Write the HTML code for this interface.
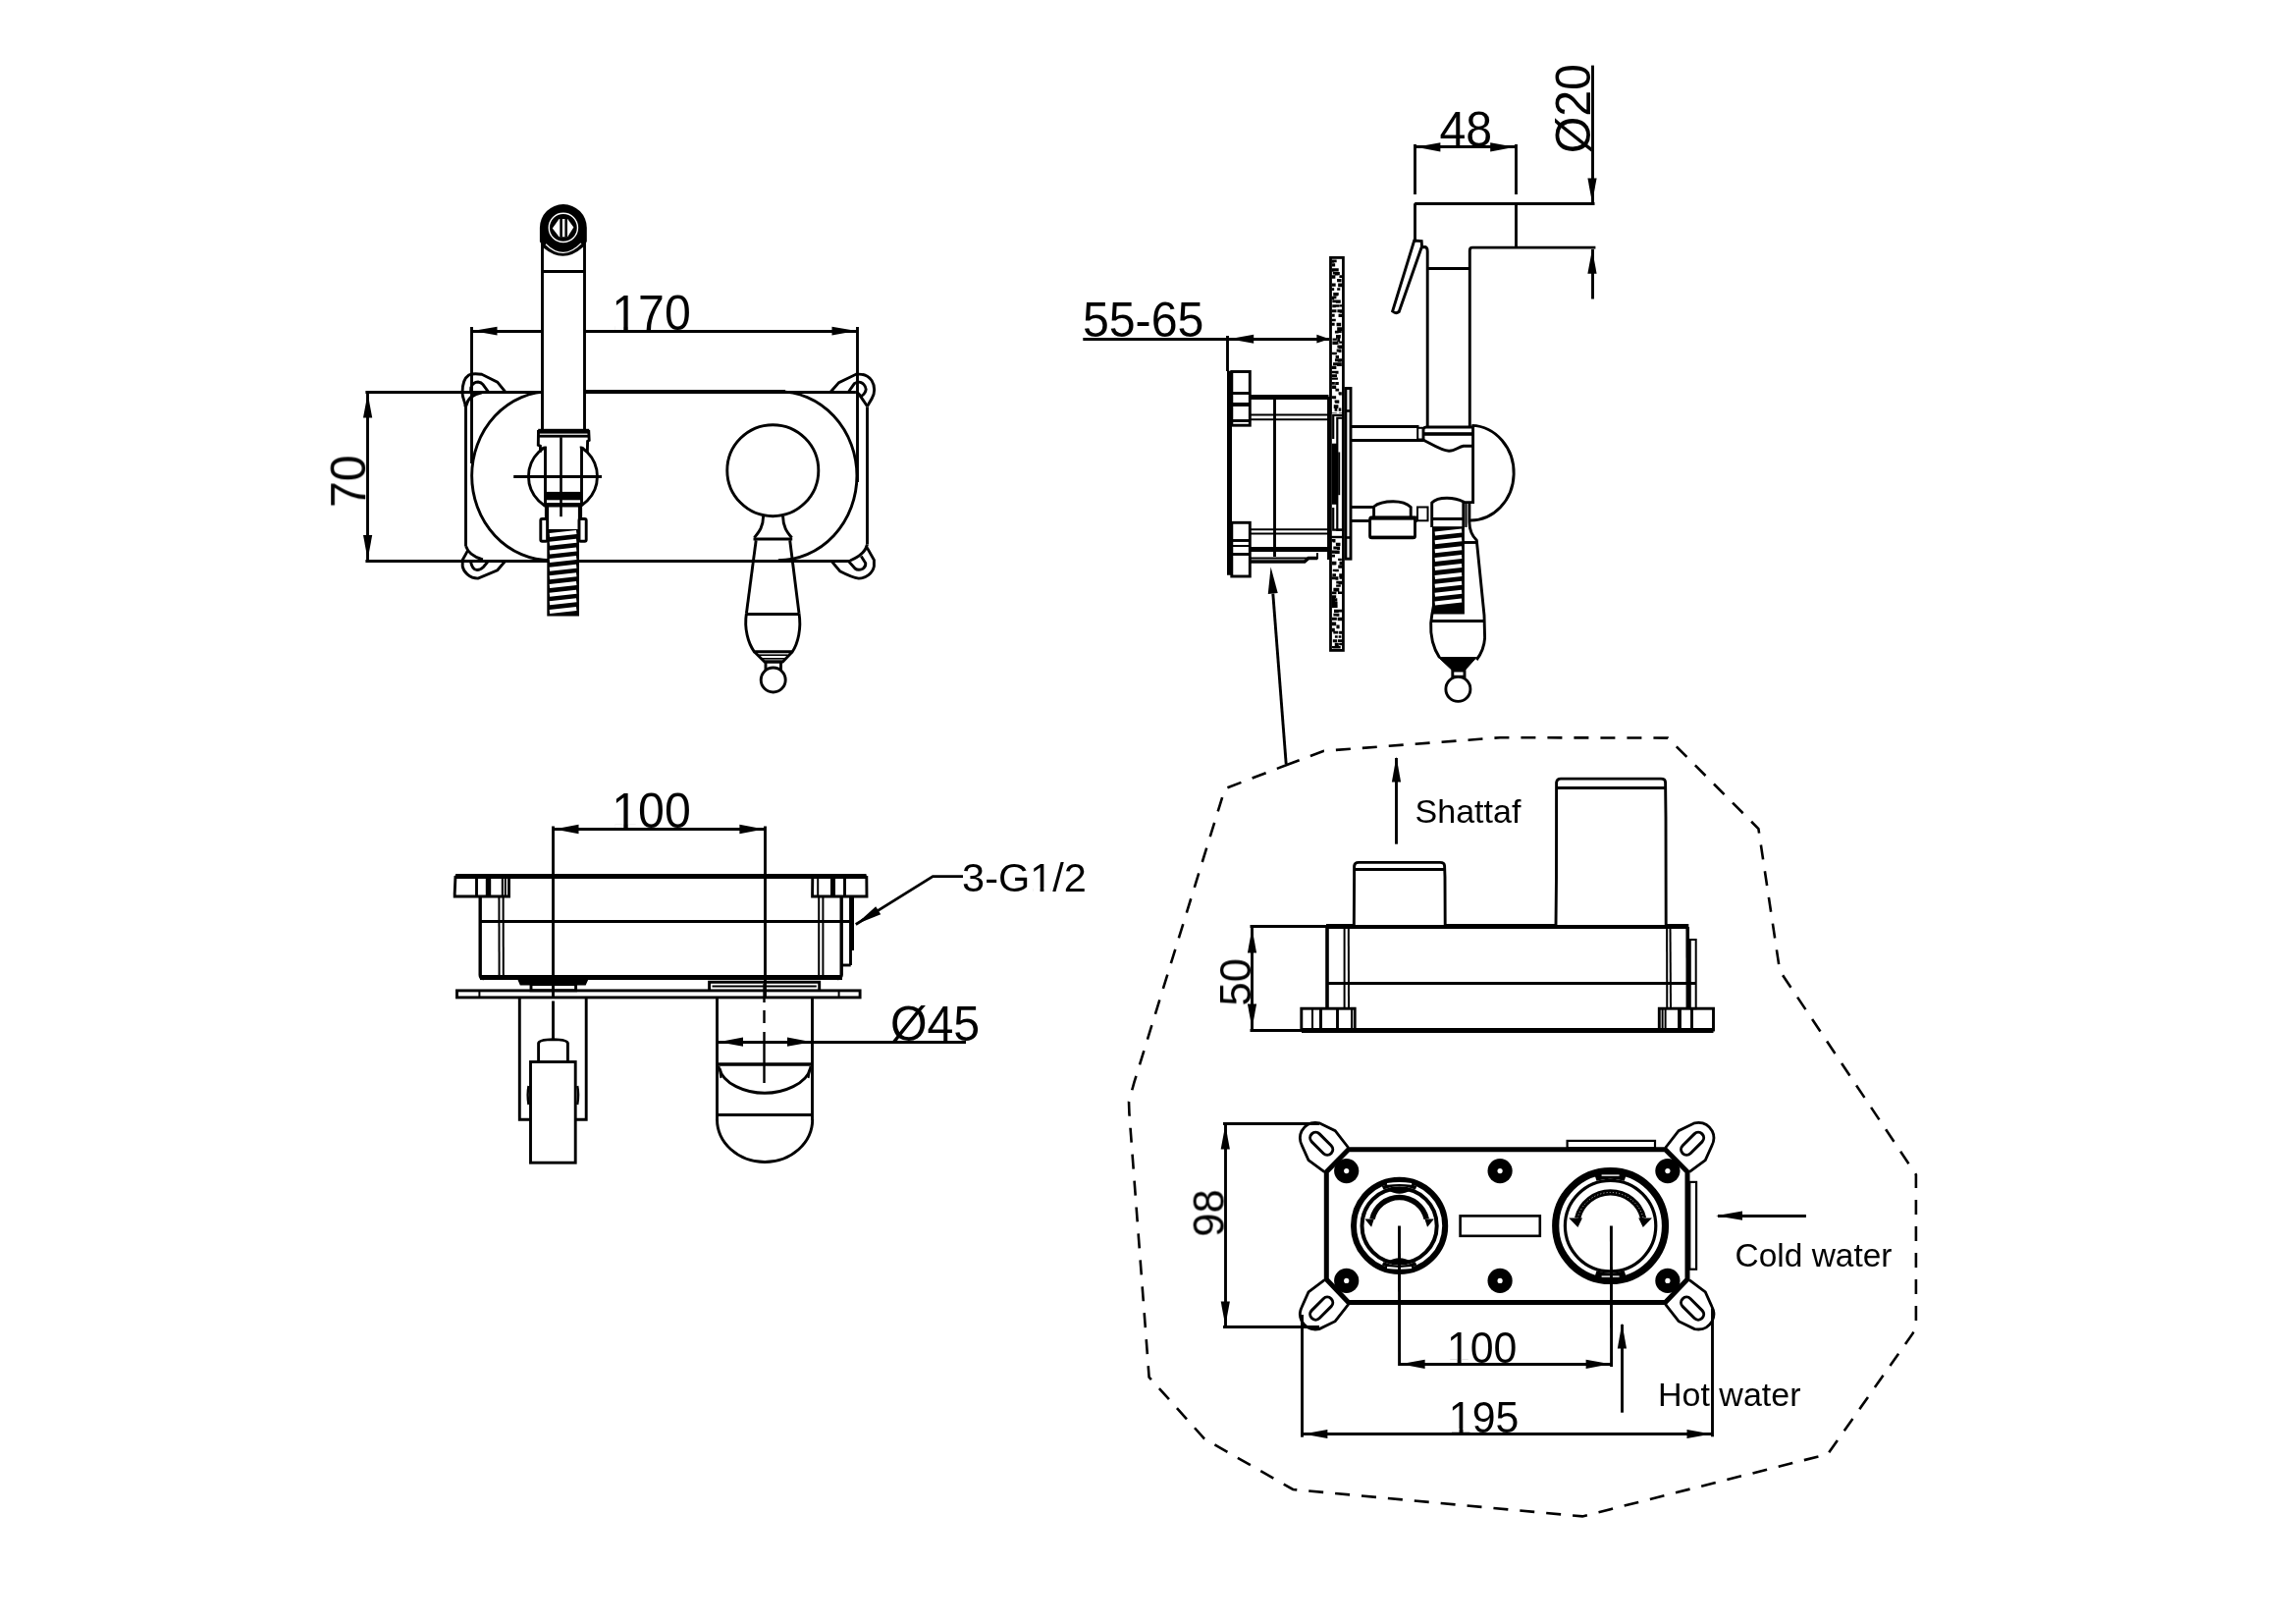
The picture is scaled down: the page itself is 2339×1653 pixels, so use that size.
<!DOCTYPE html><html><head><meta charset="utf-8"><style>html,body{margin:0;padding:0;background:#fff;overflow:hidden}svg{display:block}text{font-family:"Liberation Sans",sans-serif}</style></head><body>
<svg width="2339" height="1653" viewBox="0 0 2339 1653" stroke="#000" fill="none" stroke-linecap="butt" stroke-linejoin="miter">
<rect x="0" y="0" width="2339" height="1653" fill="#fff" stroke="none"/>
<g opacity="0.999">
<g transform="translate(663.5,336) scale(0.965,1)"><text x="-41.711" y="0" font-size="50" stroke="none" fill="#000">170</text><rect x="-38.293" y="-4.028" width="9.082" height="4.272" fill="#fff" stroke="none"/><rect x="-24.646" y="-4.028" width="8.813" height="4.272" fill="#fff" stroke="none"/></g>
<g transform="translate(372.2,490.3) rotate(-90) scale(0.965,1)"><text x="-27.808" y="0" font-size="50" stroke="none" fill="#000">70</text></g>
<g transform="translate(1493.3,149) scale(0.965,1)"><text x="-27.808" y="0" font-size="50" stroke="none" fill="#000">48</text></g>
<g transform="translate(1620,110.7) rotate(-90) scale(0.965,1)"><text x="-47.253" y="0" font-size="50" stroke="none" fill="#000">Ø20</text></g>
<g transform="translate(1164.6,343.2) scale(0.965,1)"><text x="-63.94" y="0" font-size="50" stroke="none" fill="#000">55-65</text></g>
<g transform="translate(663.5,843.1) scale(0.965,1)"><text x="-41.711" y="0" font-size="50" stroke="none" fill="#000">100</text><rect x="-38.293" y="-4.028" width="9.082" height="4.272" fill="#fff" stroke="none"/><rect x="-24.646" y="-4.028" width="8.813" height="4.272" fill="#fff" stroke="none"/></g>
<g transform="translate(952.5,1059.7) scale(0.965,1)"><text x="-47.253" y="0" font-size="50" stroke="none" fill="#000">Ø45</text></g>
<g transform="translate(1043.5,907.9)"><text x="-63.435" y="0" font-size="41.5" stroke="none" fill="#000">3-G1/2</text><rect x="8.582" y="-3.344" width="7.538" height="3.546" fill="#fff" stroke="none"/><rect x="19.909" y="-3.344" width="7.315" height="3.546" fill="#fff" stroke="none"/></g>
<g transform="translate(1274,1000.3) rotate(-90)"><text x="-24.193" y="0" font-size="43.5" stroke="none" fill="#000">50</text></g>
<g transform="translate(1441.6,837.9)"><text x="0" y="0" font-size="34" stroke="none" fill="#000">Shattaf</text></g>
<g transform="translate(1246.6,1235.5) rotate(-90)"><text x="-24.193" y="0" font-size="43.5" stroke="none" fill="#000">98</text></g>
<g transform="translate(1509.7,1388) scale(0.985,1)"><text x="-36.289" y="0" font-size="43.5" stroke="none" fill="#000">100</text><rect x="-33.315" y="-3.505" width="7.901" height="3.717" fill="#fff" stroke="none"/><rect x="-21.442" y="-3.505" width="7.668" height="3.717" fill="#fff" stroke="none"/></g>
<g transform="translate(1511.6,1458.5) scale(0.985,1)"><text x="-36.289" y="0" font-size="43.5" stroke="none" fill="#000">195</text><rect x="-33.315" y="-3.505" width="7.901" height="3.717" fill="#fff" stroke="none"/><rect x="-21.442" y="-3.505" width="7.668" height="3.717" fill="#fff" stroke="none"/></g>
<g transform="translate(1689,1431.7)"><text x="0" y="0" font-size="34" stroke="none" fill="#000">Hot water</text></g>
<g transform="translate(1767.5,1289.7) scale(0.985,1)"><text x="0" y="0" font-size="34" stroke="none" fill="#000">Cold water</text></g>
</g>
<line x1="480.4" y1="337.5" x2="873.6" y2="337.5" stroke-width="2.9"/>
<path d="M481.5,337.1 L506.5,332.7 L506.5,341.5 Z" stroke="none" fill="#000"/>
<path d="M872.5,337.1 L847.5,341.5 L847.5,332.7 Z" stroke="none" fill="#000"/>
<line x1="480.5" y1="333" x2="480.5" y2="472" stroke-width="2.9"/>
<line x1="873.5" y1="333" x2="873.5" y2="491" stroke-width="2.9"/>
<line x1="374.5" y1="399.4" x2="374.5" y2="571.3" stroke-width="2.9"/>
<path d="M374.6,400.6 L379.2,425.6 L370,425.6 Z" stroke="none" fill="#000"/>
<path d="M374.6,570.1 L370,545.1 L379.2,545.1 Z" stroke="none" fill="#000"/>
<line x1="372.4" y1="399.5" x2="871.9" y2="399.5" stroke-width="2.9"/>
<line x1="372.4" y1="571.5" x2="866" y2="571.5" stroke-width="2.9"/>
<line x1="595" y1="399" x2="800" y2="399" stroke-width="4.2"/>
<line x1="474.5" y1="414" x2="474.5" y2="556.3" stroke-width="2.9"/>
<line x1="883.5" y1="414.3" x2="883.5" y2="554.6" stroke-width="2.9"/>
<path d="M474,414.3 C474.5,410 471,406 471,400 C471,392 473,385 477.6,382 C480,380.8 486,380.5 490.9,381.3 L506.7,389.1 L514.6,398.8" stroke-width="2.9" fill="none"/>
<path d="M479.6,399.3 L479.8,394.6 C481,391 484,389 487,389 C489.5,389.3 491,390.3 492,391.6 L497.3,398.8" stroke-width="2.9" fill="none"/>
<path d="M474.6,414 C476,407 481,401.5 491,399.8" stroke-width="2.9" fill="none"/>
<path d="M846.3,399 L854.6,389.6 L871.9,381.3 C878,380.5 884,382 888,387.5 C891.5,393 891.5,401 888.2,405.9 L883.5,413.8" stroke-width="2.9" fill="none"/>
<path d="M864.5,399 L870.4,390.6 C872,389.5 874,389 875.3,389.1 C879,389.5 882,393 882.2,396.5 C882,399 880,402 876.8,403.9 L883.5,413.8" stroke-width="2.9" fill="none"/>
<path d="M871.9,399.4 C874,400 876,402 876.8,403.9" stroke-width="2.9" fill="none"/>
<path d="M476.6,560.6 L471.2,570.4 L471.2,576.8 C472,582 478,589 487,589.1 L506.7,580.8 L514.6,571.6" stroke-width="2.9" fill="none"/>
<path d="M479.6,571.3 C480,577 483,580.5 486,580.5 C489,580.5 491,579 492.5,577.5 L497.3,571.6" stroke-width="2.9" fill="none"/>
<path d="M474.6,556.1 C476,561 480,566.5 491.9,570" stroke-width="2.9" fill="none"/>
<path d="M883.2,557.6 L890.4,570.4 L890.4,576.8 C889,584 882,589 874.8,589.1 C870,588.5 862,585 855.6,581.7 L847.2,571.6" stroke-width="2.9" fill="none"/>
<path d="M864.5,571.6 L871,579 C873,580.5 876,580.5 878.5,579.5 C881,578 882,575.5 881.7,573.4 L877.3,566.5" stroke-width="2.9" fill="none"/>
<path d="M883.4,554.6 C882,561 877,566.5 866,571" stroke-width="2.9" fill="none"/>
<path d="M560.8,398.6 A80.2,86 0 0 0 560.8,570.6" stroke-width="2.9" fill="none"/>
<path d="M792.8,398.6 A80.2,86 0 0 1 792.8,570.6" stroke-width="2.9" fill="none"/>
<circle cx="787.3" cy="479.2" r="46.5" stroke-width="2.9" fill="#fff"/>
<path d="M777.6,525.8 C777.5,537 773,542 768.4,547.7" stroke-width="2.9" fill="none"/>
<path d="M797.6,525.8 C797.7,537 802,542 806.6,547.7" stroke-width="2.9" fill="none"/>
<rect x="767.5" y="547.5" width="39.7" height="3" stroke-width="0" fill="#000"/>
<line x1="770.2" y1="550.2" x2="760.4" y2="624.7" stroke-width="2.9"/>
<line x1="804.7" y1="550.2" x2="814" y2="624.7" stroke-width="2.9"/>
<line x1="760.5" y1="625.5" x2="814" y2="625.5" stroke-width="2.9"/>
<path d="M760.4,624.7 C758,640 762,655 768.4,663.8 L807.2,663.8 C813,655 816.5,640 814,624.7" stroke-width="2.9" fill="none"/>
<path d="M768.4,663.8 L778.9,674 L797.4,674 L807.2,663.8" stroke-width="2.9" fill="none"/>
<line x1="773" y1="667.2" x2="802.5" y2="667.2" stroke-width="1.6"/>
<line x1="776" y1="670.8" x2="799.5" y2="670.8" stroke-width="1.6"/>
<rect x="780" y="674" width="15.5" height="8.7" stroke-width="2.9" fill="none"/>
<circle cx="787.7" cy="692.5" r="12.5" stroke-width="2.9" fill="#fff"/>
<rect x="552.5" y="240" width="43" height="197" stroke="none" fill="#fff"/>
<line x1="552.5" y1="239" x2="552.5" y2="437" stroke-width="2.9"/>
<line x1="595.5" y1="239" x2="595.5" y2="437" stroke-width="2.9"/>
<line x1="553" y1="276.5" x2="595" y2="276.5" stroke-width="2.9"/>
<path d="M549.9,232 A23.95,23.95 0 0 1 597.8,232 L597.8,246 L593.9,251.7 Q573.85,269.4 553.8,252.6 L549.9,246 Z" stroke-width="0" fill="#000"/>
<path d="M556,248.7 Q573.85,266.5 592,247.9" stroke-width="1.3" fill="none" stroke="#fff"/>
<circle cx="573.85" cy="231.9" r="14.6" stroke-width="1.4" fill="none" stroke="#fff"/>
<path d="M562.8,232.6 L569.6,222.9 L578.2,222.9 L584.4,231.4 L578.2,241.2 L569.6,241.2 Z" stroke-width="0" fill="#fff"/>
<rect x="570.3" y="222.5" width="2.6" height="19.1" stroke="none" fill="#000"/>
<rect x="575.4" y="222.5" width="2.6" height="19.1" stroke="none" fill="#000"/>
<circle cx="573.45" cy="485.3" r="35" stroke-width="2.9" fill="none"/>
<rect x="556.8" y="440" width="33.9" height="100" stroke="none" fill="#fff"/>
<rect x="549.5" y="437" width="49.5" height="17.5" stroke="none" fill="#fff"/>
<path d="M548.5,438 L548.3,453.3 L550.4,454.3 L550.6,460.6" stroke-width="2.9" fill="none"/>
<path d="M599.7,438 L600.2,448.4 L598.6,449.3 L598.3,461" stroke-width="2.9" fill="none"/>
<rect x="548.2" y="436.8" width="52" height="4.8" stroke="none" fill="#000"/>
<rect x="548.5" y="442.8" width="51.5" height="2.8" stroke="none" fill="#000"/>
<line x1="555.5" y1="455" x2="555.5" y2="515" stroke-width="2.9"/>
<line x1="592.5" y1="455" x2="592.5" y2="515" stroke-width="2.9"/>
<line x1="523.2" y1="485.5" x2="613" y2="485.5" stroke-width="2.9"/>
<line x1="571.5" y1="445.2" x2="571.5" y2="526.2" stroke-width="2.6"/>
<rect x="556" y="500.9" width="36.5" height="8.4" stroke="none" fill="#000"/>
<rect x="555" y="512.1" width="38" height="4.4" stroke="none" fill="#000"/>
<line x1="557" y1="513" x2="557" y2="541" stroke-width="4.2"/>
<line x1="591" y1="513" x2="591" y2="541" stroke-width="4.2"/>
<rect x="550.8" y="528.5" width="6.8" height="22.7" stroke-width="2.9" fill="#fff" rx="1.5"/>
<rect x="590" y="528.5" width="7.2" height="22.7" stroke-width="2.9" fill="#fff" rx="1.5"/>
<line x1="557" y1="540.5" x2="590" y2="540.5" stroke-width="2.9"/>
<rect x="557.3" y="539.5" width="32.7" height="88" stroke="none" fill="#000"/>
<line x1="559.9" y1="545.1" x2="587.2" y2="542.1" stroke-width="4" stroke="#fff"/>
<line x1="559.9" y1="553.75" x2="587.2" y2="550.75" stroke-width="4" stroke="#fff"/>
<line x1="559.9" y1="562.4" x2="587.2" y2="559.4" stroke-width="4" stroke="#fff"/>
<line x1="559.9" y1="571.05" x2="587.2" y2="568.05" stroke-width="4" stroke="#fff"/>
<line x1="559.9" y1="579.7" x2="587.2" y2="576.7" stroke-width="4" stroke="#fff"/>
<line x1="559.9" y1="588.35" x2="587.2" y2="585.35" stroke-width="4" stroke="#fff"/>
<line x1="559.9" y1="597" x2="587.2" y2="594" stroke-width="4" stroke="#fff"/>
<line x1="559.9" y1="605.65" x2="587.2" y2="602.65" stroke-width="4" stroke="#fff"/>
<line x1="559.9" y1="614.3" x2="587.2" y2="611.3" stroke-width="4" stroke="#fff"/>
<line x1="559.9" y1="622.95" x2="587.2" y2="619.95" stroke-width="4" stroke="#fff"/>
<line x1="1441.2" y1="149.5" x2="1544.4" y2="149.5" stroke-width="2.9"/>
<path d="M1442.4,149.8 L1467.4,145.2 L1467.4,154.4 Z" stroke="none" fill="#000"/>
<path d="M1543.2,149.8 L1518.2,154.4 L1518.2,145.2 Z" stroke="none" fill="#000"/>
<line x1="1441.5" y1="147" x2="1441.5" y2="198" stroke-width="2.9"/>
<line x1="1544.5" y1="147" x2="1544.5" y2="198" stroke-width="2.9"/>
<line x1="1622.5" y1="66.6" x2="1622.5" y2="206.4" stroke-width="2.9"/>
<path d="M1622,206.4 L1617.4,181.4 L1626.6,181.4 Z" stroke="none" fill="#000"/>
<line x1="1622.5" y1="253.8" x2="1622.5" y2="304.5" stroke-width="2.9"/>
<path d="M1622,253.8 L1626.6,278.8 L1617.4,278.8 Z" stroke="none" fill="#000"/>
<line x1="1441.2" y1="207.5" x2="1624.5" y2="207.5" stroke-width="2.9"/>
<line x1="1441.5" y1="207.2" x2="1441.5" y2="246" stroke-width="2.9"/>
<line x1="1544.5" y1="207.2" x2="1544.5" y2="252.1" stroke-width="2.9"/>
<path d="M1625.4,252.1 L1500,252.1 Q1497.3,252.1 1497.3,255 L1497.3,434" stroke-width="2.9" fill="none"/>
<path d="M1454.2,434 L1454.2,256 Q1454.2,251.5 1451,251.5 L1449,252" stroke-width="2.9" fill="none"/>
<line x1="1454.9" y1="273.5" x2="1497.3" y2="273.5" stroke-width="2.9"/>
<path d="M1440.7,245 L1448.2,245.5 L1448.5,251 L1425.2,317.5 Q1422,320 1418.6,317 L1440.7,245 Z" stroke-width="2.9" fill="#fff"/>
<rect x="1355.5" y="262.4" width="12.9" height="400" stroke-width="2.8" fill="#fff"/>
<path d="M1356.786,264.5h4.875v2.832h-4.875z M1356.5,264.5h2.826v3.132h-2.826z M1356.951,268.367h3.178v3.082h-3.178z M1358.851,273.262h4.875v3.123h-4.875z M1356.5,273.262h2.712v3.574h-2.712z M1356.5,273.262h3.97v3.096h-3.97z M1360.518,277.007h4.309v3.103h-4.309z M1359.724,277.007h3.876v3.444h-3.876z M1357.818,277.007h3.468v2.597h-3.468z M1356.5,280.171h3.86v3.6h-3.86z M1364.417,280.171h2.883v2.869h-2.883z M1362.072,284.014h4.435v3.117h-4.435z M1363.508,288.405h3.792v3.475h-3.792z M1356.928,288.405h3.738v3.263h-3.738z M1363.147,288.405h4.153v3.789h-4.153z M1356.5,293.179h2.654v2.939h-2.654z M1362.168,293.179h3.124v2.66h-3.124z M1360.899,298.012h2.793v2.919h-2.793z M1358.236,298.012h4.566v3.582h-4.566z M1356.5,301.73h4.899v2.441h-4.899z M1356.5,301.73h2.629v3.53h-2.629z M1357.345,305.568h4.064v2.71h-4.064z M1360.879,305.568h4.881v3.248h-4.881z M1357.252,310.31h3.542v2.838h-3.542z M1364.551,310.31h2.749v2.308h-2.749z M1360.33,310.31h4.042v2.364h-4.042z M1364.639,315.208h2.661v3.599h-2.661z M1362.407,315.208h4.893v3.164h-4.893z M1356.5,315.208h4.983v2.946h-4.983z M1363.551,319.707h3.749v3.307h-3.749z M1356.712,319.707h2.952v3.069h-2.952z M1356.5,324.664h4.271v2.618h-4.271z M1362.512,328.729h3.391v2.557h-3.391z M1361.536,328.729h4.646v3.49h-4.646z M1356.5,328.729h3.144v3.028h-3.144z M1363.748,333.309h3.222v3.308h-3.222z M1362.183,333.309h4.849v3.781h-4.849z M1359.913,336.75h3.728v2.74h-3.728z M1362.624,336.75h4.065v2.203h-4.065z M1361.013,341.037h4.783v3.452h-4.783z M1362.269,344.394h2.808v3.714h-2.808z M1357.519,344.394h4.384v2.336h-4.384z M1357.381,347.449h4.772v3.49h-4.772z M1358.549,347.449h4.953v3.252h-4.953z M1364.156,347.449h2.914v2.223h-2.914z M1363.659,351.502h3.641v3.595h-3.641z M1362.372,351.502h3.111v3.002h-3.111z M1363.73,355.591h2.746v3.384h-2.746z M1361.665,355.591h4.556v3.027h-4.556z M1356.5,358.852h3.856v2.23h-3.856z M1357.397,358.852h4.462v2.44h-4.462z M1360.62,362.093h3.382v3.029h-3.382z M1364.564,365.305h2.736v2.506h-2.736z M1362.752,365.305h3.948v3.416h-3.948z M1359.947,365.305h4.07v3.009h-4.07z M1358.051,369.21h4.538v3.012h-4.538z M1362.127,369.21h4.702v3.684h-4.702z M1359.714,369.21h3.086v2.916h-3.086z M1356.5,372.842h3.628v2.54h-3.628z M1356.5,372.842h4.855v3.23h-4.855z M1356.5,377.777h4.392v2.351h-4.392z M1360.528,377.777h2.988v2.89h-2.988z M1359.197,381.168h2.821v2.786h-2.821z M1356.5,381.168h4.288v2.815h-4.288z M1356.5,384.394h4.932v2.368h-4.932z M1359.688,384.394h3.249v2.407h-3.249z M1360.22,389.032h3.574v3.059h-3.574z M1356.5,389.032h3.385v2.646h-3.385z M1357.059,392.57h4.123v3.483h-4.123z M1360.433,395.703h3.689v2.743h-3.689z M1364.095,399.239h2.704v3.335h-2.704z M1363.558,399.239h3.229v2.49h-3.229z M1357.835,403.301h3.296v3h-3.296z M1356.625,403.301h2.644v2.601h-2.644z M1359.614,407.403h3.834v2.593h-3.834z M1360.125,407.403h4.16v3.25h-4.16z M1358.745,412.344h4.251v3.772h-4.251z M1359.132,412.344h4.296v3.218h-4.296z M1363.685,415.452h2.634v3.201h-2.634z M1359.573,415.452h2.733v3.264h-2.733z M1364.119,420.394h3.181v0.606h-3.181z M1359.194,420.394h2.609v0.606h-2.609z M1356.5,420.394h3.376v0.606h-3.376z M1356.5,549h2.801v2.646h-2.801z M1357.648,549h2.818v3.507h-2.818z M1360.874,552.788h3.33v2.572h-3.33z M1361.081,552.788h4.401v3.252h-4.401z M1358.339,556.567h4.33v2.991h-4.33z M1362.115,556.567h2.947v3.52h-2.947z M1360.467,560.425h2.934v3.038h-2.934z M1360.161,560.425h4.531v3.522h-4.531z M1356.5,560.425h4.239v3.309h-4.239z M1356.5,564.7h3.504v2.922h-3.504z M1363.124,568.678h3.697v2.312h-3.697z M1364.541,571.862h2.759v3.379h-2.759z M1358.262,571.862h3.163v3.41h-3.163z M1357.044,571.862h3.705v3.553h-3.705z M1363.219,575.437h4.081v3.228h-4.081z M1359.737,579.74h4.091v2.414h-4.091z M1357.777,579.74h4.934v2.359h-4.934z M1357.34,584.158h3.715v2.946h-3.715z M1364.222,584.158h3.078v3.765h-3.078z M1356.5,587.311h4.923v2.919h-4.923z M1364.521,587.311h2.779v2.344h-2.779z M1360.51,587.311h2.918v3.512h-2.918z M1363.505,591.717h3.795v3.602h-3.795z M1361.273,591.717h4.236v2.849h-4.236z M1361.142,595.469h4.617v2.203h-4.617z M1358.381,598.71h4.311v3.643h-4.311z M1360.776,598.71h3.543v3.798h-3.543z M1356.817,602.566h4.65v2.649h-4.65z M1362.983,602.566h4.124v2.438h-4.124z M1356.683,606.197h4.484v2.884h-4.484z M1356.5,606.197h3.56v3.601h-3.56z M1356.5,609.296h3.682v3.404h-3.682z M1357.527,609.296h4.789v3.08h-4.789z M1358.172,612.859h4.374v3.762h-4.374z M1356.5,612.859h3.322v3.092h-3.322z M1357.826,616.01h4.774v2.995h-4.774z M1356.5,616.01h4.992v2.92h-4.992z M1358.984,616.01h3.019v3.089h-3.019z M1359.006,620.628h4.729v3.399h-4.729z M1363.442,620.628h3.858v2.803h-3.858z M1361.473,624.777h2.902v3.005h-2.902z M1358.409,624.777h3.118v2.634h-3.118z M1362.663,628.669h4.637v3.597h-4.637z M1356.93,628.669h4.924v2.984h-4.924z M1356.5,633.525h4.653v3.756h-4.653z M1357.353,633.525h2.965v3.755h-2.965z M1356.5,633.525h4.282v3.554h-4.282z M1361.433,636.528h3.158v3.672h-3.158z M1361.522,636.528h2.907v2.603h-2.907z M1356.5,639.752h3.321v3.71h-3.321z M1358.338,642.773h4.991v2.646h-4.991z M1364.118,642.773h3.182v3.042h-3.182z M1363.638,647.182h2.733v2.511h-2.733z M1359.897,647.182h2.795v2.565h-2.795z M1362.976,651.168h4.324v2.78h-4.324z M1357.819,651.168h4.374v3.008h-4.374z M1364.146,654.791h3.154v2.554h-3.154z M1359.767,654.791h4.064v3.634h-4.064z M1358.171,657.904h2.951v2.596h-2.951z M1356.973,657.904h2.941v2.283h-2.941z M1360.929,657.904h4.756v2.596h-4.756z" fill="#000" stroke="none"/>
<line x1="1103.3" y1="345.5" x2="1354.2" y2="345.5" stroke-width="2.9"/>
<path d="M1252.2,345.2 L1277.2,340.7 L1277.2,349.7 Z" stroke="none" fill="#000"/>
<path d="M1354.4,345.2 L1341.4,349.6 L1341.4,340.8 Z" stroke="none" fill="#000"/>
<line x1="1250.5" y1="342" x2="1250.5" y2="378" stroke-width="2.9"/>
<line x1="1252.5" y1="377.7" x2="1252.5" y2="585.8" stroke-width="5"/>
<rect x="1254.8" y="378.5" width="18.5" height="54.7" stroke-width="2.9" fill="none"/>
<line x1="1254.8" y1="400.5" x2="1273.3" y2="400.5" stroke-width="2.9"/>
<line x1="1254.8" y1="412" x2="1273.3" y2="412" stroke-width="4"/>
<line x1="1254.8" y1="428.5" x2="1273.3" y2="428.5" stroke-width="2.9"/>
<rect x="1254.8" y="532.3" width="18.5" height="54.7" stroke-width="2.9" fill="none"/>
<line x1="1254.8" y1="550.5" x2="1273.3" y2="550.5" stroke-width="2.9"/>
<line x1="1254.8" y1="556" x2="1273.3" y2="556" stroke-width="2"/>
<line x1="1254.8" y1="564.5" x2="1273.3" y2="564.5" stroke-width="2.9"/>
<line x1="1273.3" y1="404.5" x2="1353.5" y2="404.5" stroke-width="5"/>
<line x1="1273.3" y1="422.6" x2="1353.5" y2="422.6" stroke-width="2"/>
<line x1="1273.3" y1="427.3" x2="1353.5" y2="427.3" stroke-width="2"/>
<line x1="1298.5" y1="405.8" x2="1298.5" y2="567" stroke-width="2.9"/>
<line x1="1273.3" y1="539.2" x2="1353.5" y2="539.2" stroke-width="2"/>
<line x1="1273.3" y1="543.6" x2="1353.5" y2="543.6" stroke-width="2"/>
<line x1="1273.3" y1="559.5" x2="1353.5" y2="559.5" stroke-width="5"/>
<path d="M1273.3,568.6 L1342,568.6 L1342,563 " stroke-width="2" fill="none"/>
<path d="M1273.3,572 L1329,572 L1333,568.5 L1342,568.5" stroke-width="3.5" fill="none"/>
<line x1="1353.5" y1="404" x2="1353.5" y2="570" stroke-width="2.9"/>
<rect x="1356.9" y="421.5" width="10.1" height="127.5" stroke="none" fill="#fff"/>
<path d="M1358.2,447 L1358.2,422.8 L1368,422.8" stroke-width="2.2" fill="none"/>
<path d="M1358.2,517 L1358.2,539.7 L1368,539.7" stroke-width="2.2" fill="none"/>
<rect x="1362.3" y="425.7" width="5.7" height="114" stroke-width="2.2" fill="none"/>
<rect x="1356.8" y="451.7" width="5.9" height="62.1" stroke="none" fill="#000"/>
<line x1="1364.2" y1="460.5" x2="1364.2" y2="504.2" stroke-width="2"/>
<line x1="1355" y1="547" x2="1368" y2="547" stroke-width="2.4"/>
<rect x="1370.9" y="395.5" width="5.1" height="173.7" stroke-width="2.9" fill="#fff"/>
<line x1="1370" y1="418.5" x2="1377" y2="418.5" stroke-width="2.6"/>
<line x1="1370" y1="547.5" x2="1377" y2="547.5" stroke-width="2.6"/>
<line x1="1376" y1="434.5" x2="1445.5" y2="434.5" stroke-width="2.9"/>
<line x1="1376" y1="448.5" x2="1450" y2="448.5" stroke-width="2.9"/>
<rect x="1444.2" y="435.8" width="5.8" height="11.7" stroke-width="2" fill="none"/>
<path d="M1450,447.5 L1450,437 Q1451,435 1453,435 L1500.6,435 L1500.6,511.6 L1490.5,511.6" stroke-width="2.9" fill="none"/>
<rect x="1450" y="440.2" width="50.6" height="3.6" stroke="none" fill="#000"/>
<path d="M1450,448.1 C1458,452 1468,459 1476,459.2 C1482,459.4 1486,455 1490.8,454.2 L1500.6,454.2" stroke-width="2.9" fill="none"/>
<path d="M1499.4,433.4 A44,48.3 0 0 1 1496.9,530" stroke-width="2.9" fill="none"/>
<line x1="1376" y1="516.5" x2="1399.6" y2="516.5" stroke-width="2.9"/>
<line x1="1376" y1="530.5" x2="1396" y2="530.5" stroke-width="2.9"/>
<path d="M1399.6,526 L1399.6,516 C1405,511.5 1412,510.8 1419.3,510.8 C1426,510.8 1432,511.5 1437.2,516.5 L1437.2,526" stroke-width="2.9" fill="none"/>
<path d="M1441.5,527 L1441.5,546 Q1441.5,547.8 1439.5,547.8 L1397.5,547.8 Q1395.6,547.8 1395.6,546 L1395.6,529 Q1395.6,527 1397.5,527 Z" stroke-width="2.9" fill="#fff"/>
<rect x="1395.6" y="525.8" width="45.9" height="3.8" stroke="none" fill="#000"/>
<rect x="1395.6" y="545.6" width="45.9" height="3" stroke="none" fill="#000"/>
<rect x="1444" y="516.5" width="10.5" height="13.8" stroke-width="2" fill="none"/>
<path d="M1441.5,532 L1444,530" stroke-width="2" fill="none"/>
<path d="M1458.7,537 L1458.7,512 C1462,508.5 1468,507.2 1474,507.2 C1481,507.2 1486,508.5 1490.8,511 L1490.8,537" stroke-width="2.9" fill="#fff"/>
<line x1="1458.7" y1="528.5" x2="1490.8" y2="528.5" stroke-width="2.9"/>
<line x1="1493.5" y1="511.6" x2="1493.5" y2="537" stroke-width="2"/>
<rect x="1459" y="536.2" width="32.9" height="89.3" stroke="none" fill="#000"/>
<line x1="1461.8" y1="543.4" x2="1489.1" y2="540.4" stroke-width="4" stroke="#fff"/>
<line x1="1461.8" y1="552.3" x2="1489.1" y2="549.3" stroke-width="4" stroke="#fff"/>
<line x1="1461.8" y1="561.2" x2="1489.1" y2="558.2" stroke-width="4" stroke="#fff"/>
<line x1="1461.8" y1="570.1" x2="1489.1" y2="567.1" stroke-width="4" stroke="#fff"/>
<line x1="1461.8" y1="579" x2="1489.1" y2="576" stroke-width="4" stroke="#fff"/>
<line x1="1461.8" y1="587.9" x2="1489.1" y2="584.9" stroke-width="4" stroke="#fff"/>
<line x1="1461.8" y1="596.8" x2="1489.1" y2="593.8" stroke-width="4" stroke="#fff"/>
<line x1="1461.8" y1="605.7" x2="1489.1" y2="602.7" stroke-width="4" stroke="#fff"/>
<line x1="1461.8" y1="614.6" x2="1489.1" y2="611.6" stroke-width="4" stroke="#fff"/>
<path d="M1496.9,511.6 L1496.9,532 C1497,540 1500,546 1504.3,550.3 L1512,626.5 L1512.6,649.8 C1512,660 1508,667 1504.2,672" stroke-width="2.9" fill="none"/>
<line x1="1491" y1="552.5" x2="1505.3" y2="552.5" stroke-width="2.9"/>
<path d="M1460.4,617 L1458.8,626 L1457.7,634.3 C1457,648 1460,660 1466.5,669.8" stroke-width="2.9" fill="none"/>
<line x1="1458.8" y1="632.5" x2="1512" y2="632.5" stroke-width="2.9"/>
<path d="M1465.4,669.5 L1504.2,669.5 L1492,683 L1479.8,683 Z" stroke-width="1" fill="#000"/>
<rect x="1479.8" y="683" width="12.2" height="6.2" stroke-width="2.9" fill="none"/>
<circle cx="1485.4" cy="701.9" r="12.5" stroke-width="2.9" fill="#fff"/>
<line x1="1310.2" y1="778" x2="1296.8" y2="604.7" stroke-width="2.9"/>
<path d="M1294.6,577.6 L1301.737,604.115 L1291.769,604.913 Z" stroke="none" fill="#000"/>
<line x1="563.4" y1="844.5" x2="779.5" y2="844.5" stroke-width="2.9"/>
<path d="M564.5,844.5 L589.5,839.8 L589.5,849.2 Z" stroke="none" fill="#000"/>
<path d="M778.4,844.5 L753.4,849.2 L753.4,839.8 Z" stroke="none" fill="#000"/>
<line x1="563.5" y1="841.5" x2="563.5" y2="1016" stroke-width="2.9"/>
<line x1="779.5" y1="841.5" x2="779.5" y2="1016" stroke-width="2.9"/>
<path d="M464.2,893.5 L464.2,891.2 L882,891.2 L883,893.5" stroke-width="1" fill="none"/>
<line x1="464.2" y1="892.5" x2="882.5" y2="892.5" stroke-width="5"/>
<path d="M464,892 L463.2,910 L463.2,913 L518.5,913 L518.5,892" stroke-width="2.9" fill="none"/>
<line x1="485.5" y1="893" x2="485.5" y2="912" stroke-width="2.9"/>
<line x1="497.5" y1="893" x2="497.5" y2="912" stroke-width="5.4"/>
<line x1="511.8" y1="893" x2="511.8" y2="912" stroke-width="2"/>
<line x1="514.8" y1="893" x2="514.8" y2="912" stroke-width="2"/>
<path d="M827.8,892 L827.6,910 L827.6,913 L883,913 L882.8,892" stroke-width="2.9" fill="none"/>
<line x1="833.2" y1="893" x2="833.2" y2="912" stroke-width="2"/>
<line x1="848.5" y1="893" x2="848.5" y2="912" stroke-width="5"/>
<line x1="860.5" y1="893" x2="860.5" y2="912" stroke-width="2.9"/>
<path d="M489.2,913 L489.2,993 Q489.2,996.6 493,996.6" stroke-width="3.4" fill="none"/>
<line x1="508.4" y1="913" x2="508.6" y2="993" stroke-width="2"/>
<line x1="512.6" y1="913" x2="512.8" y2="993" stroke-width="2"/>
<line x1="834.2" y1="913" x2="834.2" y2="994" stroke-width="2"/>
<line x1="838.4" y1="913" x2="838.4" y2="994" stroke-width="2"/>
<path d="M857.2,913 L857.2,993 Q857,996.6 853,996.6" stroke-width="3.4" fill="none"/>
<line x1="866.5" y1="913" x2="866.5" y2="983" stroke-width="2.9"/>
<line x1="868.5" y1="913" x2="868.5" y2="968" stroke-width="3"/>
<path d="M857.2,983 L866.7,983" stroke-width="2.9" fill="none"/>
<line x1="490" y1="938.5" x2="867" y2="938.5" stroke-width="2.9"/>
<line x1="489" y1="995.5" x2="858" y2="995.5" stroke-width="5"/>
<path d="M528,996.5 L530.5,1002.6 L596,1002.6 L598.7,996.5 Z" stroke-width="2" fill="#000"/>
<rect x="541" y="1002.6" width="45.6" height="6.2" stroke-width="2.9" fill="none"/>
<path d="M722.6,1008.8 L722.6,1000.2 L834.7,1000.2 L834.7,1008.8" stroke-width="2.9" fill="none"/>
<line x1="725.5" y1="1004.5" x2="831.8" y2="1004.5" stroke-width="2"/>
<rect x="465.5" y="1008.9" width="410.6" height="7" stroke-width="2.9" fill="none"/>
<line x1="488.4" y1="1009" x2="488.4" y2="1016" stroke-width="2"/>
<line x1="854.6" y1="1009" x2="854.6" y2="1016" stroke-width="2"/>
<path d="M529.3,1016 L529.3,1140.3 L540,1140.3" stroke-width="2.9" fill="none"/>
<path d="M597.2,1016 L597.2,1140.3 L586.5,1140.3" stroke-width="2.9" fill="none"/>
<rect x="540.5" y="1081.5" width="45.7" height="102.7" stroke-width="2.9" fill="#fff"/>
<path d="M548.6,1081.5 L548.6,1062.5 Q549,1058.8 563.5,1058.6 Q578,1058.8 578.4,1062.5 L578.4,1081.5" stroke-width="2.9" fill="none"/>
<line x1="563.5" y1="1019.5" x2="563.5" y2="1058.8" stroke-width="2.9"/>
<path d="M538.5,1106 Q536.8,1115 538.5,1125" stroke-width="2.4" fill="none"/>
<path d="M588.2,1106 Q590,1115 588.2,1125" stroke-width="2.4" fill="none"/>
<line x1="730.5" y1="1016" x2="730.5" y2="1141" stroke-width="2.9"/>
<line x1="827.5" y1="1016" x2="827.5" y2="1141" stroke-width="2.9"/>
<line x1="730.5" y1="1084" x2="827.7" y2="1084" stroke-width="3.6"/>
<path d="M733,1088 C736,1104 760,1113.3 779,1113.3 C798,1113.3 822,1104 825.5,1088" stroke-width="2.9" fill="none"/>
<path d="M732.5,1086 L734.5,1098" stroke-width="2" fill="none"/>
<path d="M825.5,1086 L823.5,1098" stroke-width="2" fill="none"/>
<line x1="730.5" y1="1135.5" x2="827.7" y2="1135.5" stroke-width="2.9"/>
<path d="M730.5,1140 A48.6,43.5 0 0 0 827.7,1140" stroke-width="2.9" fill="none"/>
<path d="M778.5,1002 L778.5,1103" stroke-width="2.4" stroke-dasharray="19,8,13,9,60"/>
<line x1="731.2" y1="1061.5" x2="984" y2="1061.5" stroke-width="2.9"/>
<path d="M732,1061.2 L757,1056.6 L757,1065.8 Z" stroke="none" fill="#000"/>
<path d="M827,1061.2 L802,1065.8 L802,1056.6 Z" stroke="none" fill="#000"/>
<path d="M871.8,941.5 L950.3,892.6 L981,892.6" stroke-width="2.9" fill="none"/>
<path d="M871.8,941.5 L892.177,923.148 L897.254,931.295 Z" stroke="none" fill="#000"/>
<path d="M1309.6,779.5 L1348.7,764.8 L1528.3,751.2 L1699.1,751.6 L1791.4,844 L1813.1,988.7 L1951.9,1196.4 L1951.9,1349.9 L1948.7,1358 L1862,1481 L1612.1,1544.4 L1317.2,1517 L1227,1465.4 L1170.6,1402.6 L1150.4,1133.6 L1150,1122 L1155.4,1102.4 L1247.9,803.2 L1309.6,779.5" stroke-width="2.6" stroke-dasharray="15,12" fill="none"/>
<line x1="1273.5" y1="943.5" x2="1351" y2="943.5" stroke-width="2.9"/>
<line x1="1351" y1="943.5" x2="1720.3" y2="943.5" stroke-width="5"/>
<path d="M1379.3,942 L1379.6,893 L1379.6,882 Q1380,878.4 1384,878.4 L1467,878.4 Q1471.5,878.4 1471.6,882 L1472,893 L1472.2,942" stroke-width="2.9" fill="#fff"/>
<line x1="1380" y1="885.5" x2="1471.2" y2="885.5" stroke-width="2.9"/>
<path d="M1585,942 L1585.5,893 L1585.6,797 Q1586,793.1 1590,793.1 L1692,793.1 Q1696.6,793.1 1696.6,797 L1697,832 L1697.2,942" stroke-width="2.9" fill="#fff"/>
<line x1="1586" y1="802.5" x2="1696.6" y2="802.5" stroke-width="2.9"/>
<line x1="1352" y1="944" x2="1352" y2="1027" stroke-width="3.6"/>
<line x1="1369.6" y1="944" x2="1369.6" y2="1027" stroke-width="2"/>
<line x1="1373.8" y1="944" x2="1374" y2="1027" stroke-width="2"/>
<line x1="1698.1" y1="944" x2="1698.3" y2="1027" stroke-width="2"/>
<line x1="1701.5" y1="944" x2="1702" y2="1027" stroke-width="2"/>
<line x1="1719.2" y1="944" x2="1719.4" y2="1027" stroke-width="3.6"/>
<rect x="1721.8" y="957" width="5.9" height="70.2" stroke-width="2" fill="none"/>
<line x1="1352" y1="1001.5" x2="1727.7" y2="1001.5" stroke-width="2.9"/>
<rect x="1325.8" y="1027.2" width="54.4" height="21.8" stroke-width="2.9" fill="none"/>
<line x1="1337" y1="1028" x2="1337" y2="1048" stroke-width="2"/>
<line x1="1345.5" y1="1028" x2="1345.5" y2="1048" stroke-width="3"/>
<line x1="1362.5" y1="1028" x2="1362.5" y2="1048" stroke-width="2.9"/>
<line x1="1377" y1="1028" x2="1377" y2="1048" stroke-width="2"/>
<rect x="1690.3" y="1027.2" width="55.2" height="21.8" stroke-width="2.9" fill="none"/>
<line x1="1693.6" y1="1028" x2="1693.6" y2="1048" stroke-width="2"/>
<line x1="1696.6" y1="1028" x2="1696.6" y2="1048" stroke-width="2"/>
<line x1="1711" y1="1028" x2="1711" y2="1048" stroke-width="3.8"/>
<line x1="1723.5" y1="1028" x2="1723.5" y2="1048" stroke-width="2.9"/>
<line x1="1273.5" y1="1049.5" x2="1326" y2="1049.5" stroke-width="2.9"/>
<line x1="1326" y1="1049.5" x2="1745.5" y2="1049.5" stroke-width="5"/>
<line x1="1275.5" y1="944" x2="1275.5" y2="1049" stroke-width="2.9"/>
<path d="M1275.5,945.5 L1280.1,970.5 L1270.9,970.5 Z" stroke="none" fill="#000"/>
<path d="M1275.5,1047.5 L1270.9,1022.5 L1280.1,1022.5 Z" stroke="none" fill="#000"/>
<line x1="1422.5" y1="772" x2="1422.5" y2="859.7" stroke-width="2.9"/>
<path d="M1422.5,770.5 L1427.1,796.5 L1417.9,796.5 Z" stroke="none" fill="#000"/>
<line x1="1246" y1="1144.5" x2="1344" y2="1144.5" stroke-width="2.9"/>
<line x1="1246" y1="1351.5" x2="1344" y2="1351.5" stroke-width="2.9"/>
<line x1="1248.5" y1="1144" x2="1248.5" y2="1351.8" stroke-width="2.9"/>
<path d="M1248.3,1145.5 L1252.9,1170.5 L1243.7,1170.5 Z" stroke="none" fill="#000"/>
<path d="M1248.3,1350.4 L1243.7,1325.4 L1252.9,1325.4 Z" stroke="none" fill="#000"/>
<path d="M1373.7,1169 L1360.2,1151.7 L1344,1143.8 C1337,1142.5 1330,1145 1326,1152 C1323.5,1157 1324,1162 1326.3,1166.6 L1333,1181.5 L1349.3,1193.7" stroke-width="2.8" fill="none"/>
<rect x="-14" y="-5.6" width="28" height="11.2" rx="5.6" transform="translate(1346.2,1164.8) rotate(45)" stroke-width="3.0" fill="none"/>
<g transform="translate(3070.3,0) scale(-1,1)">
<path d="M1373.7,1169 L1360.2,1151.7 L1344,1143.8 C1337,1142.5 1330,1145 1326,1152 C1323.5,1157 1324,1162 1326.3,1166.6 L1333,1181.5 L1349.3,1193.7" stroke-width="2.8" fill="none"/>
<rect x="-14" y="-5.6" width="28" height="11.2" rx="5.6" transform="translate(1346.2,1164.8) rotate(45)" stroke-width="3.0" fill="none"/>
</g>
<g transform="translate(0,2497.4) scale(1,-1)">
<path d="M1373.7,1169 L1360.2,1151.7 L1344,1143.8 C1337,1142.5 1330,1145 1326,1152 C1323.5,1157 1324,1162 1326.3,1166.6 L1333,1181.5 L1349.3,1193.7" stroke-width="2.8" fill="none"/>
<rect x="-14" y="-5.6" width="28" height="11.2" rx="5.6" transform="translate(1346.2,1164.8) rotate(45)" stroke-width="3.0" fill="none"/>
</g>
<g transform="translate(3070.3,2497.4) scale(-1,-1)">
<path d="M1373.7,1169 L1360.2,1151.7 L1344,1143.8 C1337,1142.5 1330,1145 1326,1152 C1323.5,1157 1324,1162 1326.3,1166.6 L1333,1181.5 L1349.3,1193.7" stroke-width="2.8" fill="none"/>
<rect x="-14" y="-5.6" width="28" height="11.2" rx="5.6" transform="translate(1346.2,1164.8) rotate(45)" stroke-width="3.0" fill="none"/>
</g>
<path d="M1373.7,1170.8 L1696.5,1170.8 L1719,1193.5 L1719,1303 L1696.5,1326.5 L1373.7,1326.5 L1351.3,1303 L1351.3,1193.5 Z" stroke-width="5" fill="#fff"/>
<rect x="1596.6" y="1161.9" width="89.4" height="7.4" stroke-width="2.2" fill="none"/>
<rect x="1721.3" y="1203.9" width="6.8" height="88.8" stroke-width="2.2" fill="none"/>
<circle cx="1371.7" cy="1192.6" r="12.6" stroke-width="0" fill="#000"/>
<circle cx="1371.7" cy="1192.6" r="2.6" stroke-width="0" fill="#fff"/>
<circle cx="1371.7" cy="1304.4" r="12.6" stroke-width="0" fill="#000"/>
<circle cx="1371.7" cy="1304.4" r="2.6" stroke-width="0" fill="#fff"/>
<circle cx="1528.1" cy="1192.6" r="12.6" stroke-width="0" fill="#000"/>
<circle cx="1528.1" cy="1192.6" r="2.6" stroke-width="0" fill="#fff"/>
<circle cx="1528.1" cy="1304.4" r="12.6" stroke-width="0" fill="#000"/>
<circle cx="1528.1" cy="1304.4" r="2.6" stroke-width="0" fill="#fff"/>
<circle cx="1698.9" cy="1192.6" r="12.6" stroke-width="0" fill="#000"/>
<circle cx="1698.9" cy="1192.6" r="2.6" stroke-width="0" fill="#fff"/>
<circle cx="1698.9" cy="1304.4" r="12.6" stroke-width="0" fill="#000"/>
<circle cx="1698.9" cy="1304.4" r="2.6" stroke-width="0" fill="#fff"/>
<circle cx="1425.6" cy="1248.4" r="46.6" stroke-width="6" fill="none"/>
<circle cx="1425.6" cy="1248.4" r="38.1" stroke-width="4" fill="none"/>
<path d="M1408.6,1209.9 A42,42 0 0 1 1442.6,1209.9" stroke-width="3.6" fill="none"/>
<path d="M1413.1,1205.8 Q1425.6,1204.2 1438.1,1205.8" stroke-width="1.8" fill="none" stroke="#fff"/>
<path d="M1413.6,1211.9 Q1425.6,1219.4 1437.6,1211.9 Z" stroke-width="0" fill="#000"/>
<path d="M1408.6,1286.9 A42,42 0 0 0 1442.6,1286.9" stroke-width="3.6" fill="none"/>
<path d="M1413.1,1291 Q1425.6,1292.6 1438.1,1291" stroke-width="1.8" fill="none" stroke="#fff"/>
<path d="M1413.6,1284.9 Q1425.6,1277.4 1437.6,1284.9 Z" stroke-width="0" fill="#000"/>
<path d="M1398,1241.5 A28.3,28.3 0 0 1 1453.2,1241.5" stroke-width="5.6" fill="none"/>
<path d="M1390.3,1241.5 L1399.8,1241.5 L1397.1,1249.7 Z" stroke-width="0" fill="#000"/>
<path d="M1451.4,1241.5 L1460.9,1241.5 L1454.1,1249.7 Z" stroke-width="0" fill="#000"/>
<circle cx="1640.6" cy="1248.6" r="55.9" stroke-width="7.2" fill="none"/>
<circle cx="1640.6" cy="1248.6" r="46.2" stroke-width="3.2" fill="none"/>
<path d="M1625.6,1200 A51,51 0 0 1 1655.6,1200" stroke-width="6" fill="none"/>
<line x1="1631.6" y1="1197.1" x2="1649.6" y2="1197.1" stroke-width="1.4" stroke="#fff"/>
<path d="M1625.6,1297.2 A51,51 0 0 0 1655.6,1297.2" stroke-width="6" fill="none"/>
<line x1="1631.6" y1="1300.1" x2="1649.6" y2="1300.1" stroke-width="1.4" stroke="#fff"/>
<path d="M1607.1,1240.7 A34.5,34.5 0 0 1 1674.1,1240.7" stroke-width="6.2" fill="none"/>
<path d="M1607.1,1240.7 A34.5,34.5 0 0 1 1674.1,1240.7" stroke-width="0.8" fill="none" stroke="#fff" stroke-dasharray="1,2.2"/>
<path d="M1598.2,1240.5 L1612,1240.5 L1607.4,1250 Z" stroke-width="0" fill="#000"/>
<path d="M1669.2,1240.5 L1683,1240.5 L1673.8,1250 Z" stroke-width="0" fill="#000"/>
<rect x="1487.6" y="1238.4" width="81.2" height="20.4" stroke-width="2.6" fill="none"/>
<line x1="1425.5" y1="1248.6" x2="1425.6" y2="1391" stroke-width="2.9"/>
<line x1="1641.4" y1="1248.6" x2="1641.6" y2="1392" stroke-width="2.9"/>
<line x1="1425.6" y1="1389.5" x2="1641.6" y2="1389.5" stroke-width="2.9"/>
<path d="M1426.6,1389.3 L1451.6,1384.7 L1451.6,1393.9 Z" stroke="none" fill="#000"/>
<path d="M1640.6,1389.3 L1615.6,1393.9 L1615.6,1384.7 Z" stroke="none" fill="#000"/>
<line x1="1326.5" y1="1339" x2="1326.5" y2="1463.7" stroke-width="2.9"/>
<line x1="1744.5" y1="1332.7" x2="1744.5" y2="1463.3" stroke-width="2.9"/>
<line x1="1326.3" y1="1460.5" x2="1744.6" y2="1460.5" stroke-width="2.9"/>
<path d="M1327.4,1460.5 L1352.4,1455.9 L1352.4,1465.1 Z" stroke="none" fill="#000"/>
<path d="M1743.5,1460.5 L1718.5,1465.1 L1718.5,1455.9 Z" stroke="none" fill="#000"/>
<line x1="1652.5" y1="1349" x2="1652.5" y2="1438.7" stroke-width="2.9"/>
<path d="M1652.4,1347.4 L1657,1373.4 L1647.8,1373.4 Z" stroke="none" fill="#000"/>
<line x1="1750" y1="1238.5" x2="1839.9" y2="1238.5" stroke-width="2.9"/>
<path d="M1748,1238.2 L1775,1233.6 L1775,1242.8 Z" stroke="none" fill="#000"/>
</svg></body></html>
